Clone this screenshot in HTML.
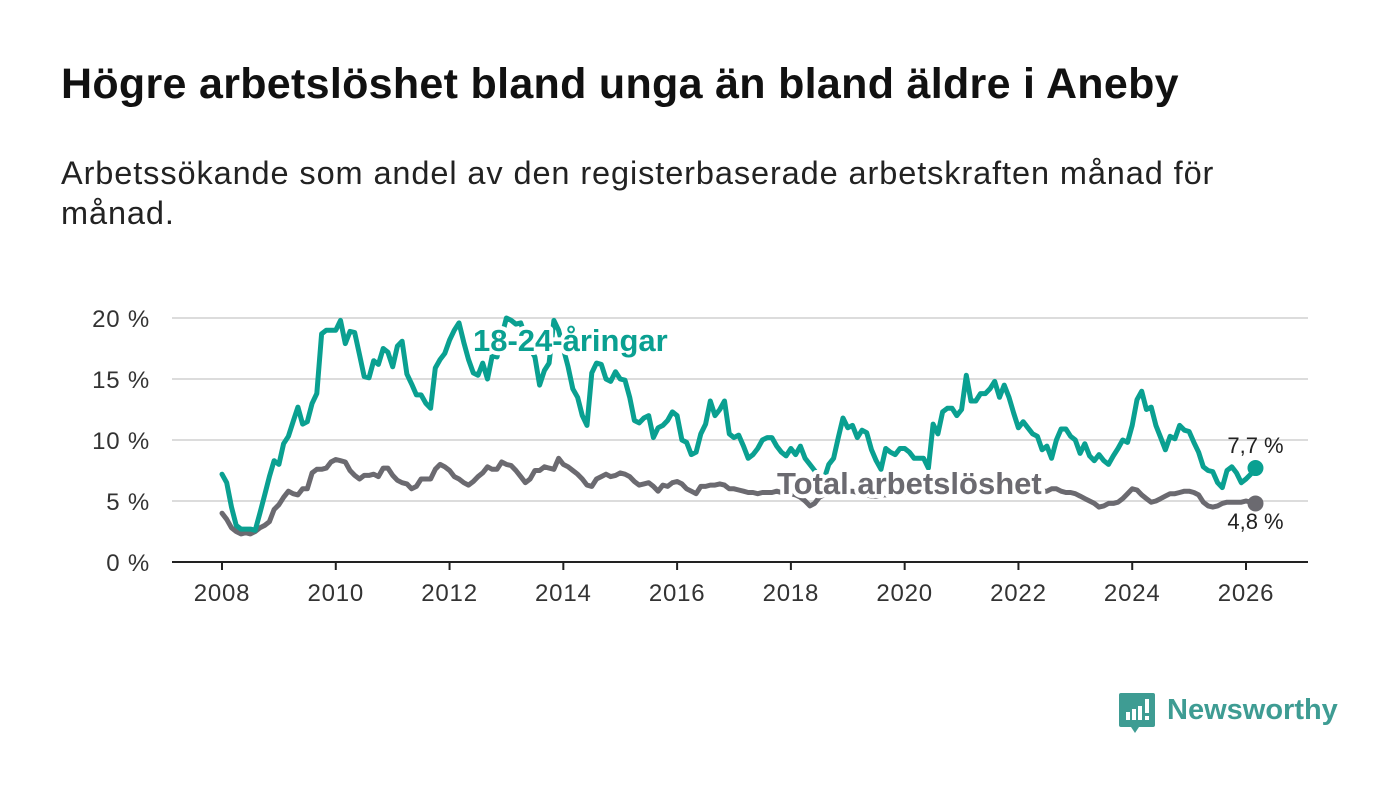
<!DOCTYPE html>
<html><head><meta charset="utf-8">
<style>
html,body{margin:0;padding:0;background:#fff;}
body{width:1400px;height:794px;position:relative;overflow:hidden;font-family:"Liberation Sans","DejaVu Sans",sans-serif;}
h1{position:absolute;left:61px;top:60px;margin:0;font-size:43px;line-height:49px;font-weight:bold;color:#111;white-space:nowrap;letter-spacing:0.3px;}
p.sub{position:absolute;left:61px;top:153px;margin:0;font-size:32.5px;line-height:40px;color:#222;width:1200px;letter-spacing:0.9px;}
svg{position:absolute;left:0;top:0;}
</style></head>
<body>
<h1>Högre arbetslöshet bland unga än bland äldre i Aneby</h1>
<p class="sub">Arbetssökande som andel av den registerbaserade arbetskraften månad för månad.</p>
<svg id="chart" width="1400" height="794"></svg>
<script>
const yTicks=[0,5,10,15,20];
const yTickLabels=["0 %","5 %","10 %","15 %","20 %"];
const xTicks=[2008,2010,2012,2014,2016,2018,2020,2022,2024,2026];
const youth=[
7.2,6.5,4.5,3.0,2.7,2.7,2.7,2.6,4.0,5.5,7.0,8.3,
8.0,9.7,10.3,11.5,12.7,11.3,11.5,13.0,13.8,18.7,19.0,19.0,
19.0,19.8,17.9,18.9,18.8,17.0,15.2,15.1,16.5,16.2,17.5,17.2,
16.0,17.7,18.1,15.4,14.6,13.7,13.7,13.0,12.6,15.9,16.6,17.1,
18.2,19.0,19.6,18.0,16.6,15.5,15.3,16.3,15.0,16.9,16.8,18.5,
20.0,19.8,19.5,19.6,18.5,17.5,16.8,14.5,15.7,16.3,19.8,19.0,
17.5,16.0,14.2,13.5,12.0,11.2,15.5,16.3,16.2,15.0,14.8,15.6,
15.0,14.9,13.5,11.6,11.4,11.8,12.0,10.2,11.0,11.2,11.6,12.3,
12.0,10.0,9.8,8.8,9.0,10.5,11.3,13.2,12.0,12.5,13.2,10.5,
10.2,10.4,9.5,8.5,8.8,9.3,10.0,10.2,10.2,9.5,9.0,8.7,
9.3,8.8,9.5,8.5,8.0,7.5,7.0,6.8,8.0,8.5,10.2,11.8,
11.0,11.2,10.2,10.8,10.6,9.2,8.3,7.6,9.3,9.0,8.8,9.3,
9.3,9.0,8.5,8.5,8.5,7.7,11.3,10.5,12.3,12.6,12.6,12.0,
12.5,15.3,13.2,13.2,13.8,13.8,14.2,14.8,13.5,14.5,13.5,12.2,
11.0,11.5,11.0,10.5,10.3,9.2,9.5,8.5,10.0,10.9,10.9,10.3,
10.0,8.9,9.7,8.7,8.3,8.8,8.3,8.0,8.7,9.3,10.0,9.8,
11.2,13.3,14.0,12.5,12.7,11.2,10.2,9.2,10.3,10.1,11.2,10.8,
10.7,9.8,9.0,7.8,7.5,7.4,6.5,6.1,7.5,7.8,7.3,6.5,
6.8,7.2,7.7];
const total=[
4.0,3.5,2.8,2.5,2.3,2.4,2.3,2.5,2.8,3.0,3.3,4.3,
4.7,5.3,5.8,5.6,5.5,6.0,6.0,7.3,7.6,7.6,7.7,8.2,
8.4,8.3,8.2,7.5,7.1,6.8,7.1,7.1,7.2,7.0,7.7,7.7,
7.1,6.7,6.5,6.4,6.0,6.2,6.8,6.8,6.8,7.6,8.0,7.8,
7.5,7.0,6.8,6.5,6.3,6.6,7.0,7.3,7.8,7.6,7.6,8.2,
8.0,7.9,7.5,7.0,6.5,6.8,7.5,7.5,7.8,7.7,7.6,8.5,
8.0,7.8,7.5,7.2,6.8,6.3,6.2,6.8,7.0,7.2,7.0,7.1,
7.3,7.2,7.0,6.6,6.3,6.4,6.5,6.2,5.8,6.3,6.2,6.5,
6.6,6.4,6.0,5.8,5.6,6.2,6.2,6.3,6.3,6.4,6.3,6.0,
6.0,5.9,5.8,5.7,5.7,5.6,5.7,5.7,5.7,5.8,5.7,5.6,
5.6,5.5,5.3,5.0,4.6,4.8,5.3,5.5,5.6,5.7,5.7,5.8,
5.8,5.8,5.7,5.6,5.5,5.4,5.4,5.5,5.5,5.5,5.6,5.6,
5.7,5.8,5.9,6.2,6.5,6.8,6.8,6.6,6.5,6.5,6.4,6.3,
6.5,6.8,6.7,6.5,6.5,6.4,6.3,6.2,6.0,5.9,5.9,6.0,
6.0,6.1,6.0,5.9,5.9,5.8,5.8,6.0,6.0,5.8,5.7,5.7,
5.6,5.4,5.2,5.0,4.8,4.5,4.6,4.8,4.8,4.9,5.2,5.6,
6.0,5.9,5.5,5.2,4.9,5.0,5.2,5.4,5.6,5.6,5.7,5.8,
5.8,5.7,5.5,4.9,4.6,4.5,4.6,4.8,4.9,4.9,4.9,4.9,
5.0,4.9,4.8];

const NS="http://www.w3.org/2000/svg";
const svg=document.getElementById('chart');
const X=yr=>222+(yr-2008)*(1024/18);
const Y=v=>562-v*12.2;
const xm=i=>X(2008+i/12);
function mk(tag,attrs,parent){const e=document.createElementNS(NS,tag);for(const k in attrs)e.setAttribute(k,attrs[k]);(parent||svg).appendChild(e);return e;}

yTicks.forEach((t,i)=>{
  if(t>0){const g=mk('line',{x1:172,x2:1308,y1:Y(t),y2:Y(t),stroke:'#dcdcdc','stroke-width':2});
  
  }
  const tx=mk('text',{x:150,y:Y(t)+9,'text-anchor':'end','font-size':24,'letter-spacing':0.8,fill:'#333'});
  tx.textContent=yTickLabels[i];
  
  
});
const ax=mk('line',{x1:172,x2:1308,y1:562,y2:562,stroke:'#222','stroke-width':2});


xTicks.forEach(t=>{
  const tk=mk('line',{x1:X(t),x2:X(t),y1:562,y2:570,stroke:'#222','stroke-width':2});
  
  
  const tx=mk('text',{x:X(t),y:601,'text-anchor':'middle','font-size':24,'letter-spacing':0.8,fill:'#333'});
  tx.textContent=t;
  
  
});
function line(data,color,name){
  const d=data.map((v,i)=>(i?'L':'M')+xm(i).toFixed(1)+','+Y(v).toFixed(1)).join('');
  const p=mk('path',{d:d,fill:'none',stroke:color,'stroke-width':5,'stroke-linejoin':'round','stroke-linecap':'round'});
  
  
  const last=data.length-1;
  const c=mk('circle',{cx:xm(last),cy:Y(data[last]),r:8,fill:color});
  
  
  return last;
}
const lt=line(total,'#6b6a70','total-line');
const ly=line(youth,'#0aa091','youth-line');
function label(txt,x,y,color,size,bold,name,anchor){
  const t=mk('text',{x:x,y:y,'font-size':size,'font-weight':bold?'bold':'normal',fill:color,stroke:'#fff','stroke-width':bold?8:0,'stroke-linejoin':'round','paint-order':'stroke','text-anchor':anchor||'start'});
  t.textContent=txt;
  
  
}
label('18-24-åringar',473,351,'#0aa091',31,true,'youth-series-label');
label('Total arbetslöshet',777,494,'#6b6a70',31,true,'total-series-label');
label(youth[ly].toFixed(1).replace('.',',')+' %',xm(ly),453,'#222',22,false,'youth-end-value','middle');
label(total[lt].toFixed(1).replace('.',',')+' %',xm(lt),529,'#222',22,false,'total-end-value','middle');
</script>
<svg width="1400" height="794" style="pointer-events:none">
  <path d="M1121 693h32a2 2 0 0 1 2 2v30a2 2 0 0 1-2 2h-14l-4 6-4-6h-10a2 2 0 0 1-2-2v-30a2 2 0 0 1 2-2z" fill="#3e9c93"/>
  <rect x="1126" y="712" width="4" height="8" fill="#fff"/>
  <rect x="1132" y="709" width="4" height="11" fill="#fff"/>
  <rect x="1138" y="706" width="4" height="14" fill="#fff"/>
  <rect x="1145" y="699" width="4" height="14" fill="#fff"/>
  <rect x="1145" y="716" width="4" height="4" fill="#fff"/>
  <text x="1167" y="719" font-size="29" font-weight="bold" fill="#3e9c93" font-family="Liberation Sans, sans-serif">Newsworthy</text>
</svg>
</body></html>
